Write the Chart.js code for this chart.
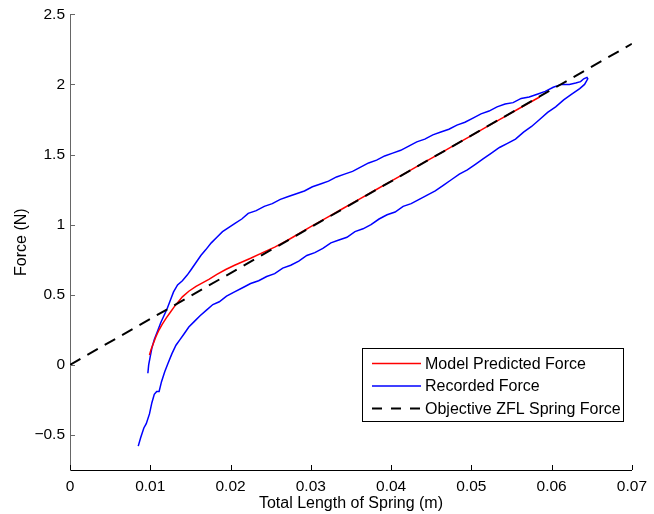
<!DOCTYPE html>
<html>
<head>
<meta charset="utf-8">
<title>Force vs Total Length of Spring</title>
<script src="https://cdn.jsdelivr.net/npm/chart.js@4/dist/chart.umd.min.js"></script>
<style>
  html, body { margin: 0; padding: 0; background: #fff; }
  canvas { display: block; }
</style>
</head>
<body>
<canvas id="springChart" width="654" height="514"></canvas>
<script>
// Axis ticks
const xTicks = [0, 0.01, 0.02, 0.03, 0.04, 0.05, 0.06, 0.07];
const yTicks = [-0.5, 0, 0.5, 1, 1.5, 2, 2.5];

// Model predicted force (red)
const modelX = [0.0099, 0.0101, 0.0103, 0.0107, 0.0111, 0.0115, 0.0120, 0.0125, 0.0130, 0.0135,
  0.0140, 0.0148, 0.0157, 0.0165, 0.0173, 0.0183, 0.0194, 0.0205, 0.0215, 0.0225,
  0.0240, 0.0255, 0.0270, 0.0285, 0.0300, 0.0320, 0.0340, 0.0360, 0.0380, 0.0400,
  0.0420, 0.0440, 0.0460, 0.0480, 0.0500, 0.0520, 0.0540, 0.0560, 0.0585];
const modelY = [0.07, 0.11, 0.14, 0.20, 0.25, 0.29, 0.335, 0.375, 0.415, 0.45,
  0.485, 0.525, 0.56, 0.585, 0.61, 0.645, 0.68, 0.71, 0.735, 0.76,
  0.80, 0.84, 0.885, 0.935, 0.985, 1.05, 1.115, 1.18, 1.245, 1.31,
  1.375, 1.44, 1.505, 1.57, 1.635, 1.70, 1.765, 1.83, 1.91];

// Recorded force (blue) - loading branch up to the tip, then unloading branch back
const recordedX = [0.0085, 0.0088, 0.0092, 0.0095, 0.0099, 0.0102, 0.0105, 0.0108, 0.0111, 0.0114,
  0.0118, 0.0122, 0.0127, 0.0132, 0.0137, 0.0142, 0.0148, 0.0155, 0.0162, 0.0170,
  0.0178, 0.0186, 0.0195, 0.0205, 0.0215, 0.0225, 0.0235, 0.0245, 0.0255, 0.0265,
  0.0275, 0.0285, 0.0295, 0.0305, 0.0315, 0.0325, 0.0335, 0.0345, 0.0355, 0.0365,
  0.0375, 0.0385, 0.0395, 0.0405, 0.0415, 0.0425, 0.0435, 0.0445, 0.0455, 0.0465,
  0.0475, 0.0485, 0.0495, 0.0505, 0.0515, 0.0525, 0.0535, 0.0545, 0.0555, 0.0565,
  0.0575, 0.0585, 0.0595, 0.0605, 0.0615, 0.0625, 0.0635, 0.0641, 0.0645, 0.0644,
  0.0640, 0.0636, 0.0630, 0.0622, 0.0612, 0.0602, 0.0592, 0.0582, 0.0572, 0.0562,
  0.0552, 0.0542, 0.0532, 0.0522, 0.0512, 0.0502, 0.0492, 0.0482, 0.0472, 0.0462,
  0.0452, 0.0442, 0.0432, 0.0422, 0.0412, 0.0402, 0.0392, 0.0382, 0.0372, 0.0362,
  0.0352, 0.0342, 0.0332, 0.0322, 0.0312, 0.0302, 0.0292, 0.0282, 0.0272, 0.0262,
  0.0252, 0.0242, 0.0232, 0.0222, 0.0214, 0.0206, 0.0198, 0.0190, 0.0183, 0.0176,
  0.0169, 0.0163, 0.0157, 0.0151, 0.0146, 0.0140, 0.0134, 0.0129, 0.0125, 0.0121,
  0.0117, 0.0113, 0.0109, 0.0105, 0.0102, 0.0100, 0.0098, 0.0097];
const recordedY = [-0.58, -0.52, -0.45, -0.42, -0.35, -0.27, -0.21, -0.19, -0.19, -0.12,
  -0.05, 0.01, 0.08, 0.14, 0.18, 0.22, 0.27, 0.31, 0.35, 0.39,
  0.43, 0.45, 0.49, 0.52, 0.55, 0.58, 0.60, 0.63, 0.65, 0.69,
  0.71, 0.74, 0.78, 0.80, 0.83, 0.87, 0.89, 0.91, 0.95, 0.97,
  1.00, 1.04, 1.07, 1.09, 1.13, 1.15, 1.18, 1.21, 1.24, 1.28,
  1.32, 1.36, 1.39, 1.43, 1.47, 1.51, 1.55, 1.58, 1.61, 1.66,
  1.70, 1.75, 1.80, 1.84, 1.89, 1.93, 1.97, 2.00, 2.04, 2.05,
  2.04, 2.02, 2.01, 2.00, 2.00, 1.98, 1.95, 1.93, 1.91, 1.90,
  1.87, 1.86, 1.84, 1.81, 1.79, 1.76, 1.73, 1.71, 1.68, 1.66,
  1.64, 1.61, 1.59, 1.56, 1.53, 1.51, 1.49, 1.46, 1.44, 1.41,
  1.38, 1.36, 1.34, 1.31, 1.29, 1.27, 1.24, 1.22, 1.20, 1.18,
  1.15, 1.13, 1.10, 1.08, 1.04, 1.01, 0.98, 0.95, 0.91, 0.87,
  0.82, 0.78, 0.73, 0.68, 0.64, 0.60, 0.57, 0.52, 0.46, 0.40,
  0.35, 0.30, 0.24, 0.18, 0.12, 0.06, 0.00, -0.06];

// Objective ZFL spring force (black dashed)
const objectiveX = [0, 0.07];
const objectiveY = [0, 2.29];

const toPoints = (xs, ys) => xs.map((x, i) => ({ x: x, y: ys[i] }));
const fmt = v => String(Number(v.toFixed(2))).replace('-', '\u2212');
const fontFamily = '"Liberation Sans", Arial, sans-serif';

// Draws MATLAB-style inward tick marks
const inwardTicks = {
  id: 'inwardTicks',
  afterDatasetsDraw(chart) {
    const { ctx, chartArea, scales } = chart;
    ctx.save();
    ctx.lineWidth = 1;
    ctx.strokeStyle = '#000';
    scales.x.ticks.forEach(t => {
      const px = Math.round(scales.x.getPixelForValue(t.value)) + 0.5;
      ctx.beginPath();
      ctx.moveTo(px, chartArea.bottom);
      ctx.lineTo(px, chartArea.bottom - 5);
      ctx.stroke();
    });
    ctx.strokeStyle = '#666';
    scales.y.ticks.forEach(t => {
      const py = Math.round(scales.y.getPixelForValue(t.value)) + 0.5;
      ctx.beginPath();
      ctx.moveTo(chartArea.left, py);
      ctx.lineTo(chartArea.left + 5, py);
      ctx.stroke();
    });
    ctx.restore();
  }
};

// Boxed legend inside the axes, lower right
const boxLegend = {
  id: 'boxLegend',
  afterDraw(chart) {
    const { ctx } = chart;
    const left = 362, top = 348, width = 261, height = 73, rowH = 22.5;
    ctx.save();
    ctx.fillStyle = '#fff';
    ctx.fillRect(left, top, width, height);
    ctx.strokeStyle = '#000';
    ctx.lineWidth = 1;
    ctx.strokeRect(left + 0.5, top + 0.5, width, height);
    ctx.font = '16px ' + fontFamily;
    ctx.textBaseline = 'middle';
    chart.data.datasets.forEach((ds, i) => {
      const cy = top + 15.5 + i * rowH;
      ctx.beginPath();
      ctx.strokeStyle = ds.borderColor;
      ctx.lineWidth = ds.borderWidth;
      ctx.setLineDash(ds.borderDash ? [10, 9] : []);
      ctx.moveTo(372, cy);
      ctx.lineTo(421, cy);
      ctx.stroke();
      ctx.setLineDash([]);
      ctx.fillStyle = '#000';
      ctx.fillText(ds.label, 425, cy + 1);
    });
    ctx.restore();
  }
};

new Chart(document.getElementById('springChart'), {
  type: 'line',
  data: {
    datasets: [
      {
        label: 'Model Predicted Force',
        data: toPoints(modelX, modelY),
        borderColor: '#ff0000',
        borderWidth: 1.5,
        order: 1
      },
      {
        label: 'Recorded Force',
        data: toPoints(recordedX, recordedY),
        borderColor: '#0000ff',
        borderWidth: 1.5,
        order: 2
      },
      {
        label: 'Objective ZFL Spring Force',
        data: toPoints(objectiveX, objectiveY),
        borderColor: '#000000',
        borderWidth: 2,
        borderDash: [12, 8],
        order: 0
      }
    ]
  },
  options: {
    responsive: false,
    animation: false,
    elements: {
      point: { radius: 0, hoverRadius: 0 },
      line: { tension: 0, fill: false }
    },
    layout: { padding: { top: 14, right: 18, left: 0, bottom: 0 } },
    plugins: {
      legend: { display: false },
      tooltip: { enabled: false }
    },
    scales: {
      x: {
        type: 'linear',
        min: 0,
        max: 0.07,
        afterBuildTicks: s => { s.ticks = xTicks.map(v => ({ value: v })); },
        afterFit: s => { s.height = 44; },
        grid: { display: false, drawTicks: false },
        border: { display: true, color: '#000', width: 1 },
        ticks: {
          color: '#000',
          padding: 7,
          maxRotation: 0,
          autoSkip: false,
          font: { family: fontFamily, size: 15.5 },
          callback: v => fmt(v)
        },
        title: {
          display: true,
          text: 'Total Length of Spring (m)',
          color: '#000',
          padding: { top: 0, bottom: 1 },
          font: { family: fontFamily, size: 16 }
        }
      },
      y: {
        type: 'linear',
        min: -0.75,
        max: 2.5,
        afterBuildTicks: s => { s.ticks = yTicks.map(v => ({ value: v })); },
        afterFit: s => { s.width = 70; },
        grid: { display: false, drawTicks: false },
        border: { display: true, color: '#666', width: 1 },
        ticks: {
          color: '#000',
          padding: 5,
          autoSkip: false,
          font: { family: fontFamily, size: 15.5 },
          callback: v => fmt(v)
        },
        title: {
          display: true,
          text: 'Force (N)',
          color: '#000',
          padding: { top: 12, bottom: 0 },
          font: { family: fontFamily, size: 16 }
        }
      }
    }
  },
  plugins: [inwardTicks, boxLegend]
});
</script>
</body>
</html>
